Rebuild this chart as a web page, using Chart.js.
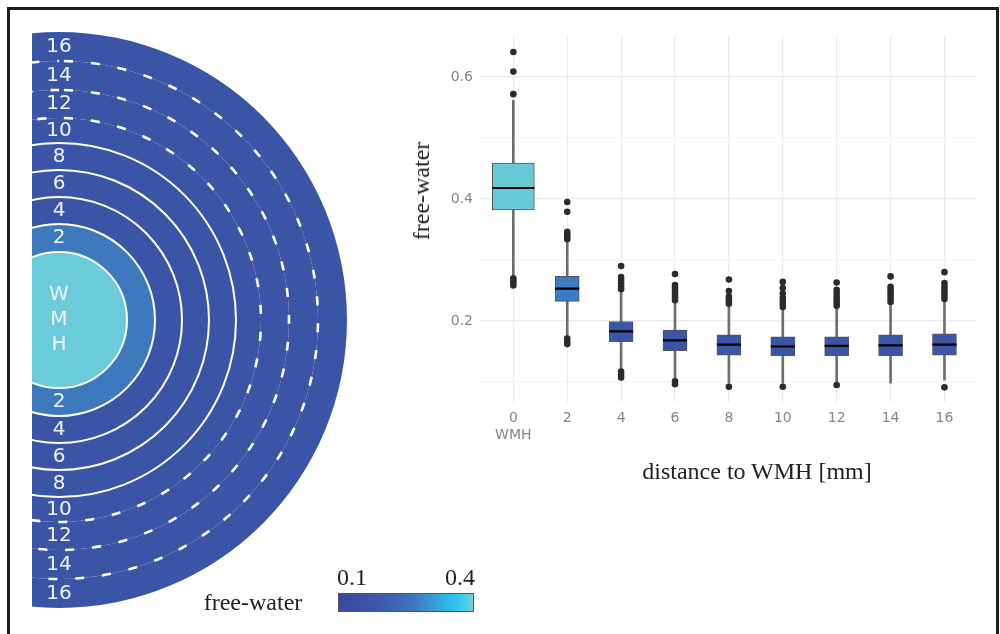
<!DOCTYPE html>
<html>
<head>
<meta charset="utf-8">
<script src="https://cdn.jsdelivr.net/npm/chart.js@4"></script>
<style>
  body { margin: 0; width: 1000px; height: 634px; position: relative; overflow: hidden; background: #fff; }
  .serif { position: absolute; font-family: 'Liberation Serif', serif; font-size: 24px; color: #222; white-space: nowrap; line-height: 1; }
</style>
</head>
<body>
<div style="position:absolute;left:7px;top:7px;width:986px;height:700px;border:3px solid #1c1c1c;"></div>

<div style="position:absolute;left:32px;top:0;width:340px;height:634px;overflow:hidden;">
  <canvas id="rings" width="576" height="576" style="position:absolute;left:-261px;top:32px;"></canvas>
</div>

<canvas id="box" width="600" height="500" style="position:absolute;left:400px;top:0;"></canvas>

<div class="serif" style="left:421px;top:191px;transform:translate(-50%,-50%) rotate(-90deg);">free-water</div>
<div class="serif" style="left:757px;top:471px;transform:translate(-50%,-50%);">distance to WMH [mm]</div>

<div class="serif" style="left:253px;top:602px;transform:translate(-50%,-50%);">free-water</div>
<div class="serif" style="left:352px;top:577px;transform:translate(-50%,-50%);">0.1</div>
<div class="serif" style="left:460px;top:577px;transform:translate(-50%,-50%);">0.4</div>
<div style="position:absolute;left:338px;top:593px;width:134px;height:17px;border:1px solid #555;
  background:linear-gradient(to right,#3a48a0 0%,#3c5aab 30%,#3f74bd 55%,#30b9ea 82%,#34c8f0 90%,#70d0da 100%);"></div>

<script>
// distance to WMH in mm (0 = the lesion itself)
const distances = [0, 2, 4, 6, 8, 10, 12, 14, 16];
const tickNames = ['0\nWMH', '2', '4', '6', '8', '10', '12', '14', '16'];

// free-water box statistics
const q1 =          [0.382, 0.232, 0.166, 0.151, 0.144, 0.143, 0.143, 0.143, 0.144];
const medians =     [0.418, 0.253, 0.183, 0.168, 0.161, 0.158, 0.159, 0.160, 0.161];
const q3 =          [0.459, 0.273, 0.199, 0.185, 0.177, 0.174, 0.174, 0.177, 0.179];
const whiskerLow =  [0.272, 0.174, 0.120, 0.105, 0.098, 0.098, 0.100, 0.098, 0.103];
const whiskerHigh = [0.562, 0.330, 0.248, 0.232, 0.226, 0.223, 0.225, 0.228, 0.232];
const outliers = [
  [0.641, 0.609, 0.572, 0.270, 0.266, 0.262, 0.258],
  [0.395, 0.379, 0.346, 0.342, 0.338, 0.334, 0.171, 0.166, 0.162],
  [0.290, 0.272, 0.267, 0.262, 0.257, 0.252, 0.117, 0.112, 0.107],
  [0.277, 0.259, 0.254, 0.249, 0.244, 0.239, 0.234, 0.101, 0.096],
  [0.268, 0.249, 0.240, 0.236, 0.232, 0.228, 0.092],
  [0.264, 0.254, 0.245, 0.238, 0.233, 0.228, 0.223, 0.092],
  [0.263, 0.251, 0.246, 0.240, 0.235, 0.230, 0.225, 0.095],
  [0.273, 0.256, 0.251, 0.246, 0.241, 0.236, 0.231],
  [0.280, 0.262, 0.256, 0.251, 0.246, 0.241, 0.236, 0.091]
];

// ring thickness in the schematic, inner (WMH) to outer
const ringWidths = [68, 28, 27, 27, 27, 25, 28, 29, 29];

function colourFor(v) {
  if (v >= 0.35) return '#6ccbd9';
  if (v >= 0.22) return '#3e79be';
  return '#3b55a6';
}
const boxColour = (v) => v >= 0.35 ? '#66c9d8' : (v >= 0.22 ? '#3d7bc4' : '#3b56a8');

Chart.defaults.font.family = "'DejaVu Sans', sans-serif";

// white circles + labels on the flat side of the schematic
const ringLines = {
  id: 'ringLines',
  afterDatasetsDraw(chart) {
    const ctx = chart.ctx;
    ctx.save();
    ctx.strokeStyle = '#ffffff';
    ctx.lineCap = 'butt';
    chart.data.datasets.forEach((ds, i) => {
      if (ds.distance === 16) return;
      const arc = chart.getDatasetMeta(i).data[0];
      const dashed = ds.distance >= 10;
      ctx.lineWidth = dashed ? 2.6 : 2;
      ctx.setLineDash(dashed ? [9, 18] : []);
      ctx.lineDashOffset = 22;
      ctx.beginPath();
      ctx.arc(arc.x, arc.y, arc.outerRadius, -Math.PI / 2, Math.PI * 1.5);
      ctx.stroke();
    });
    ctx.setLineDash([]);
    ctx.fillStyle = '#eef2fa';
    ctx.font = "20px 'DejaVu Sans', sans-serif";
    ctx.textAlign = 'center';
    ctx.textBaseline = 'middle';
    chart.data.datasets.forEach((ds, i) => {
      const arc = chart.getDatasetMeta(i).data[0];
      if (ds.distance === 0) {
        ['W', 'M', 'H'].forEach((ch, k) => ctx.fillText(ch, arc.x, arc.y + (k - 1) * 25));
        return;
      }
      const mid = (arc.innerRadius + arc.outerRadius) / 2;
      ctx.fillText(String(ds.distance), arc.x, arc.y - mid);
      ctx.fillText(String(ds.distance), arc.x, arc.y + mid);
    });
    ctx.restore();
  }
};

const ringIdx = distances.map((d, i) => i).reverse(); // outer ring first
new Chart(document.getElementById('rings'), {
  type: 'pie',
  data: {
    labels: ['free-water'],
    datasets: ringIdx.map(i => ({
      label: distances[i] === 0 ? 'WMH' : distances[i] + ' mm',
      distance: distances[i],
      data: [medians[i]],
      backgroundColor: colourFor(medians[i]),
      borderWidth: 0,
      weight: ringWidths[i]
    }))
  },
  options: {
    responsive: false,
    animation: false,
    events: [],
    rotation: -90,
    plugins: { legend: { display: false }, tooltip: { enabled: false } }
  },
  plugins: [ringLines]
});

// box plot
const pts = (vals) => vals.map((v, i) => ({ x: distances[i], y: v }));
const outlierPts = [];
outliers.forEach((list, i) => list.forEach(v => outlierPts.push({ x: distances[i], y: v })));

new Chart(document.getElementById('box'), {
  type: 'bar',
  data: {
    datasets: [
      {
        type: 'scatter',
        label: 'outliers',
        data: outlierPts,
        backgroundColor: '#2b2b2b',
        borderWidth: 0,
        pointRadius: 3.3,
        order: 0
      },
      {
        type: 'scatter',
        label: 'median',
        data: pts(medians),
        pointStyle: 'line',
        pointRadius: (c) => c.dataIndex === 0 ? 21 : 12,
        borderColor: '#000',
        borderWidth: 2.2,
        order: 1
      },
      {
        label: 'box WMH',
        data: [{ x: distances[0], y: [q1[0], q3[0]] }],
        backgroundColor: boxColour(medians[0]),
        borderColor: '#555',
        borderWidth: 1,
        borderSkipped: false,
        barThickness: 42,
        grouped: false,
        order: 2
      },
      {
        label: 'box',
        data: distances.slice(1).map((d, k) => ({ x: d, y: [q1[k + 1], q3[k + 1]] })),
        backgroundColor: medians.slice(1).map(boxColour),
        borderColor: '#555',
        borderWidth: 1,
        borderSkipped: false,
        barThickness: 24,
        grouped: false,
        order: 2
      },
      {
        label: 'whisker',
        data: distances.map((d, i) => ({ x: d, y: [whiskerLow[i], whiskerHigh[i]] })),
        backgroundColor: '#6e6e6e',
        borderWidth: 0,
        barThickness: 2,
        grouped: false,
        order: 3
      }
    ]
  },
  options: {
    responsive: false,
    animation: false,
    events: [],
    layout: { padding: { top: 35, right: 12, left: 0, bottom: 0 } },
    plugins: { legend: { display: false }, tooltip: { enabled: false } },
    scales: {
      x: {
        type: 'linear',
        min: -1.2,
        max: 17.2,
        offset: false,
        border: { display: false },
        grid: { offset: false, drawTicks: false, color: '#ebebeb', lineWidth: 1.2 },
        ticks: {
          stepSize: 2,
          includeBounds: false,
          autoSkip: false,
          maxRotation: 0,
          padding: 8,
          color: '#858585',
          font: { size: 14 },
          callback: (v) => {
            const i = distances.indexOf(v);
            return i < 0 ? '' : tickNames[i].split('\n');
          }
        },
        afterFit: (s) => { s.height = 98; }
      },
      y: {
        min: 0.067,
        max: 0.669,
        border: { display: false },
        grid: {
          drawTicks: false,
          lineWidth: 1.2,
          color: (c) => Math.round(c.tick.value * 10) % 2 === 0 ? '#ebebeb' : '#f5f5f5'
        },
        ticks: {
          stepSize: 0.1,
          includeBounds: false,
          padding: 8,
          color: '#858585',
          font: { size: 14 },
          callback: (v) => {
            const k = Math.round(v * 10);
            return k % 2 === 0 ? (k / 10).toFixed(1) : '';
          }
        },
        afterFit: (s) => { s.width = 81; }
      }
    }
  }
});
</script>
</body>
</html>
